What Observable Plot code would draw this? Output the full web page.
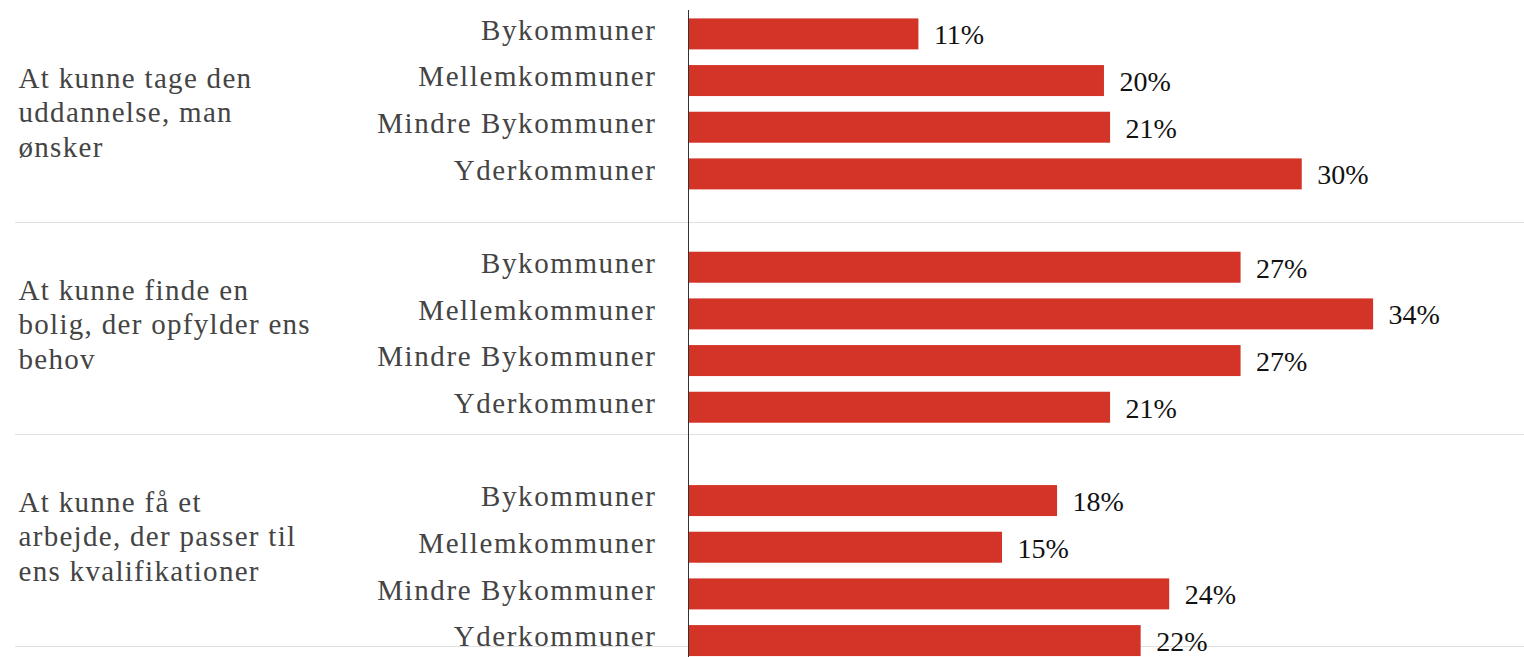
<!DOCTYPE html>
<html><head><meta charset="utf-8">
<script src="https://cdn.jsdelivr.net/npm/d3@7"></script>
<script src="https://cdn.jsdelivr.net/npm/@observablehq/plot@0.6"></script>
<style>
body{margin:0;background:#fff;}
#wrap{position:relative;width:1524px;height:657px;}
#wrap svg{position:absolute;left:0;top:0;font-family:"Liberation Serif","Times New Roman",serif !important;background:transparent !important;}
#wrap svg text{font-family:"Liberation Serif","Times New Roman",serif;}
</style></head><body><div id="wrap"></div>
<script>
const groups = [
  "At kunne tage den\nuddannelse, man\nønsker",
  "At kunne finde en\nbolig, der opfylder ens\nbehov",
  "At kunne få et\narbejde, der passer til\nens kvalifikationer"
];
const categories = ["Bykommuner", "Mellemkommuner", "Mindre Bykommuner", "Yderkommuner"];
const valuesUddannelse = [11.3, 20.4, 20.7, 30.1];
const valuesBolig = [27.1, 33.6, 27.1, 20.7];
const valuesArbejde = [18.1, 15.4, 23.6, 22.2];
const labelsUddannelse = [11, 20, 21, 30];
const labelsBolig = [27, 34, 27, 21];
const labelsArbejde = [18, 15, 24, 22];

const allValues = [valuesUddannelse, valuesBolig, valuesArbejde];
const allLabels = [labelsUddannelse, labelsBolig, labelsArbejde];

const rows = [];
const slotDomain = [];
groups.forEach((g, gi) => {
  if (gi > 0) slotDomain.push("gap-" + gi);
  categories.forEach((c, ci) => {
    const slot = gi + "-" + ci;
    slotDomain.push(slot);
    rows.push({slot, group: g, category: c, value: allValues[gi][ci], label: allLabels[gi][ci]});
  });
});

const font = "Liberation Serif";

const overlay = Plot.plot({
  width: 1524, height: 657,
  marginLeft: 15, marginRight: 0, marginTop: 10, marginBottom: 11,
  y: {domain: [0, groups.length], reverse: true, axis: null},
  style: {background: "transparent"},
  marks: [
    Plot.ruleY(groups.map((g, i) => i + 1), {stroke: "#e0e0e0", strokeWidth: 1}),
    Plot.text(groups, {
      y: (d, i) => i + 0.5, text: d => d,
      frameAnchor: "left", textAnchor: "start", lineAnchor: "middle",
      lineHeight: 1.18, dx: 3, dy: -5,
      fontSize: 29, fontFamily: font, fill: "#444"
    })
  ]
});

const main = Plot.plot({
  width: 1524, height: 657,
  marginLeft: 688, marginRight: 0, marginTop: 10, marginBottom: 0,
  x: {domain: [0, 41], axis: null},
  y: {domain: slotDomain, axis: null, paddingInner: 0.336, paddingOuter: 0.1, align: 0.9, round: false},
  style: {background: "transparent"},
  marks: [
    Plot.barX(rows, {x: "value", y: "slot", fill: "#d33427"}),
    Plot.text(rows, {
      x: 0, y: "slot", text: "category", textAnchor: "end",
      dx: -32, dy: -4, fontSize: 29, fontFamily: font, fill: "#444"
    }),
    Plot.text(rows, {
      x: "value", y: "slot", text: d => d.label + "%", textAnchor: "start",
      dx: 15, dy: 1, fontSize: 28, fontFamily: font, fill: "#111"
    }),
    Plot.ruleX([0], {stroke: "#333", strokeWidth: 1})
  ]
});

const wrap = document.getElementById("wrap");
wrap.appendChild(overlay);
wrap.appendChild(main);

const mainTexts = main.querySelectorAll('g[aria-label="text"]');
if (mainTexts[0]) mainTexts[0].style.letterSpacing = "1.6px";
const ovTexts = overlay.querySelectorAll('g[aria-label="text"]');
if (ovTexts[0]) ovTexts[0].style.letterSpacing = "1.3px";
</script>
</body></html>
